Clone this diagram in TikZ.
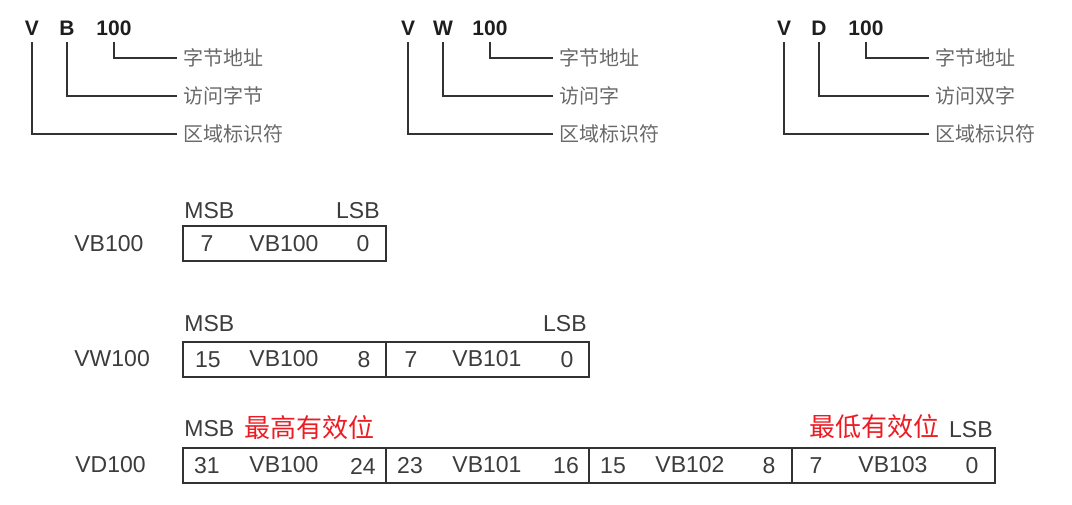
\documentclass[tikz,border=0pt]{standalone}
\usepackage{fontspec}
\setmainfont{Liberation Sans}
\newfontfamily\cjk{Noto Sans CJK SC}
\usepackage{xcolor}
\usetikzlibrary{positioning}
\definecolor{linegray}{RGB}{50, 50, 50}
\definecolor{keygray}{RGB}{30, 30, 30}
\definecolor{textgray}{RGB}{60, 60, 60}
\definecolor{lblgray}{RGB}{105, 105, 105}
\definecolor{markred}{RGB}{236, 28, 36}

\begin{document}
\begin{tikzpicture}[
    x=0.5pt, y=-0.5pt,
    key/.style={font=\bfseries\fontsize{10.5}{12}\selectfont, text=keygray,
                inner sep=0pt, outer sep=3.5pt, text depth=0pt, anchor=base},
    part/.style={font=\cjk\fontsize{10}{12}\selectfont, text=lblgray,
                 anchor=west, inner sep=3pt},
    leader/.style={draw=linegray, line width=1pt},
    cell/.style={draw=linegray, line width=1.1pt, minimum width=101.5pt,
                 minimum height=17.5pt, inner sep=0pt, anchor=west},
    bit/.style={font=\fontsize{11.5}{13}\selectfont, text=textgray, inner sep=0pt},
    note/.style={font=\cjk\fontsize{13}{15}\selectfont, text=markred, inner sep=0pt}
]
    \useasboundingbox (0,0) rectangle (1072,504);

    % address format: area, size, byte address
    \foreach \x/\t/\w [count=\i] in {0/B/访问字节, 376/W/访问字, 752/D/访问双字} {
        \node[key] (v\i) at (32+\x, 35) {V};
        \node[key] (t\i) at (67+\x, 35) {\t};
        \node[key] (n\i) at (114+\x, 35) {100};
        \node[part] (a\i) at (177+\x, 58) {字节地址};
        \node[part] (b\i) at (177+\x, 96) {\w};
        \node[part] (c\i) at (177+\x, 134) {区域标识符};
        \draw[leader] (n\i.south) |- (a\i.west);
        \draw[leader] (t\i.south) |- (b\i.west);
        \draw[leader] (v\i.south) |- (c\i.west);
    }

    % byte
    \node[bit, anchor=west] (rb) at (74, 244) {VB100};
    \node[bit, anchor=west] (msb1) at (184, 211) {MSB};
    \node[bit, anchor=east] (lsb1) at (380, 211) {LSB};
    \node[cell] (b0) at (182, 243.5) {};
    \node[bit] (bhi0) at (182+25, 244) {7};
    \node[bit] (bnm0) at (182+102, 244) {VB100};
    \node[bit] (blo0) at (182+181, 244) {0};

    % word
    \node[bit, anchor=west] (rw) at (74, 359) {VW100};
    \node[bit, anchor=west] (msb2) at (184, 324) {MSB};
    \node[bit, anchor=east] (lsb2) at (587, 324) {LSB};
    \foreach \hi/\nm/\lo [count=\j from 0] in {15/VB100/8, 7/VB101/0} {
        \node[cell] (w\j) at (182+203*\j, 359.5) {};
        \node[bit] (whi\j) at (182+203*\j+26, 360) {\hi};
        \node[bit] (wnm\j) at (182+203*\j+102, 359) {\nm};
        \node[bit] (wlo\j) at (182+203*\j+182, 360) {\lo};
    }

    % double word
    \node[bit, anchor=west] (rd) at (75, 465) {VD100};
    \node[bit, anchor=west] (msb3) at (184, 429) {MSB};
    \node[note, anchor=west] (hiword) at (244, 428) {最高有效位};
    \node[note, anchor=east] (loword) at (940, 427) {最低有效位};
    \node[bit, anchor=east] (lsb3) at (993, 430) {LSB};
    \foreach \hi/\nm/\lo [count=\j from 0] in {31/VB100/24, 23/VB101/16, 15/VB102/8, 7/VB103/0} {
        \node[cell] (d\j) at (182+203*\j, 465.5) {};
        \node[bit] (dhi\j) at (182+203*\j+25, 466) {\hi};
        \node[bit] (dnm\j) at (182+203*\j+102, 465) {\nm};
        \node[bit] (dlo\j) at (182+203*\j+181, 466) {\lo};
    }
\end{tikzpicture}
\end{document}
